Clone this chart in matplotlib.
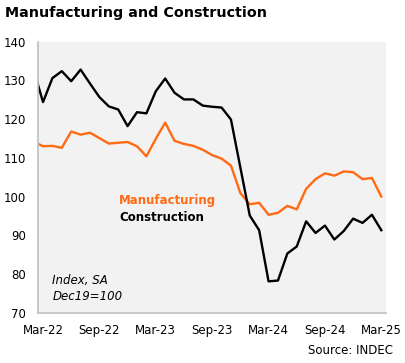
import numpy as np
import matplotlib
matplotlib.use("Agg")
import matplotlib.pyplot as plt

# monthly index, Feb-22 .. Mar-25 (Feb-22 only partly visible at the left edge)
months = ["Feb-22", "Mar-22", "Apr-22", "May-22", "Jun-22", "Jul-22", "Aug-22", "Sep-22",
          "Oct-22", "Nov-22", "Dec-22", "Jan-23", "Feb-23", "Mar-23", "Apr-23", "May-23",
          "Jun-23", "Jul-23", "Aug-23", "Sep-23", "Oct-23", "Nov-23", "Dec-23", "Jan-24",
          "Feb-24", "Mar-24", "Apr-24", "May-24", "Jun-24", "Jul-24", "Aug-24", "Sep-24",
          "Oct-24", "Nov-24", "Dec-24", "Jan-25", "Feb-25", "Mar-25"]
manufacturing = [114.2, 113.0, 113.1, 112.6, 116.8, 116.0, 116.5, 115.1, 113.7, 113.9,
                 114.1, 113.0, 110.4, 114.9, 119.1, 114.4, 113.6, 113.1, 112.1, 110.7,
                 109.8, 108.0, 100.9, 98.0, 98.4, 95.3, 95.8, 97.6, 96.7, 102.0,
                 104.5, 106.0, 105.4, 106.5, 106.3, 104.5, 104.8, 100.0]
construction = [132.8, 124.4, 130.6, 132.4, 129.8, 132.8, 129.2, 125.7, 123.3, 122.5,
                118.2, 121.8, 121.5, 127.2, 130.5, 126.8, 125.1, 125.1, 123.5, 123.2,
                123.0, 119.9, 107.5, 95.1, 91.3, 78.1, 78.3, 85.3, 87.1, 93.6,
                90.6, 92.5, 88.9, 91.1, 94.3, 93.2, 95.3, 91.3]
tick_labels = ["Mar-22", "Sep-22", "Mar-23", "Sep-23", "Mar-24", "Sep-24", "Mar-25"]

orange = "#ff6a13"
x = np.arange(len(months))

fig = plt.figure(figsize=(4.05, 3.63), dpi=100)
ax = fig.add_axes([0.0946, 0.1386, 0.8574, 0.7464])
ax.set_facecolor("#f2f2f2")

ax.plot(x, manufacturing, color=orange, lw=1.7)
ax.plot(x, construction, color="black", lw=1.7)

ax.set_xlim(0.5, 37.45)
ax.set_ylim(70, 140)
ax.set_yticks(np.arange(70, 141, 10))
ax.set_xticks([months.index(m) for m in tick_labels])
ax.set_xticklabels(tick_labels)
ax.tick_params(length=0, labelsize=8.5, pad=8)
ax.tick_params(axis="y", pad=9)

for s in ["top", "right"]:
    ax.spines[s].set_visible(False)
for s in ["left", "bottom"]:
    ax.spines[s].set_color("#c0c0c0")
    ax.spines[s].set_linewidth(1.2)

# series labels
ax.text(0.233, 0.413, "Manufacturing", transform=ax.transAxes, color=orange,
        fontsize=8.5, fontweight="bold", va="center")
ax.text(0.233, 0.353, "Construction", transform=ax.transAxes, color="black",
        fontsize=8.5, fontweight="bold", va="center")
ax.text(0.04, 0.118, "Index, SA", transform=ax.transAxes, fontsize=8.5,
        style="italic", va="center")
ax.text(0.04, 0.06, "Dec19=100", transform=ax.transAxes, fontsize=8.5,
        style="italic", va="center")

fig.text(0.012, 0.963, "Manufacturing and Construction", fontsize=10.3,
         fontweight="bold", va="center")
fig.text(0.97, 0.034, "Source: INDEC", fontsize=8.5, ha="right", va="center")

fig.savefig("out.png", dpi=100)
